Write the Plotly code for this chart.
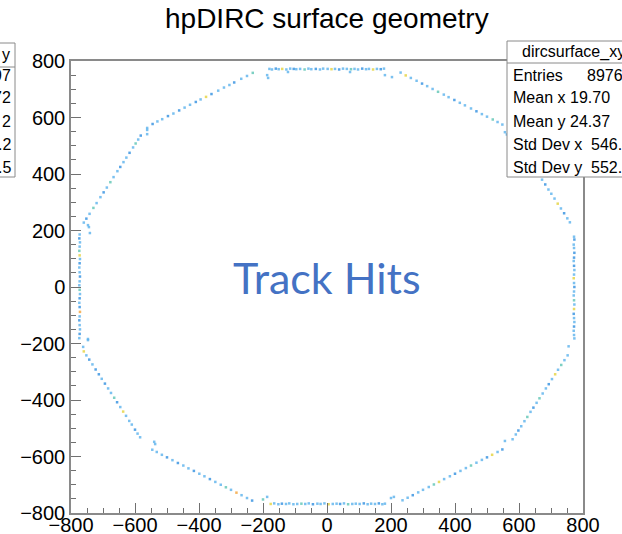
import plotly.graph_objects as go

# ---------------- data (hit positions) ----------------
top_x = [-180, -172, -160, -151, -140, -127, -115, -104, -96, -84, -70, -58, -49, -35, -22, -12,
         2, 14, 25, 38, 50, 62, 75, 86, 97, 110, 122, 131, 144, 156, 168, 178, -187, -184, -122, 72, 181, 203]
top_y = [772, 770, 773, 771, 772, 770, 773, 772, 771, 772, 770, 773, 771, 772, 770, 773,
         772, 771, 772, 770, 773, 772, 771, 772, 770, 773, 771, 772, 770, 772, 771, 773, 750, 740, 761, 761, 750, 743]
top_z = [1, 1, 2, 1, 4, 1, 1, 2, 1, 1, 3, 1, 1, 2, 1, 1,
         1, 4, 1, 2, 1, 1, 3, 1, 1, 2, 1, 1, 4, 1, 2, 1, 1, 1, 1, 1, 1, 1]

bot_x = [-176, -165, -152, -141, -128, -118, -105, -93, -80, -68, -57, -44, -30, -20, -8, 5,
         18, 30, 41, 53, 66, 79, 90, 102, 115, 127, 138, 150, 162, 173, 181, -187, -200, 200, 209]
bot_y = [-768, -766, -769, -767, -768, -766, -769, -768, -767, -768, -766, -769, -767, -768, -766, -769,
         -768, -767, -768, -766, -769, -768, -767, -768, -766, -769, -767, -768, -766, -769, -767, -743, -752, -747, -743]
bot_z = [4, 1, 1, 2, 1, 1, 1, 1, 3, 1, 1, 2, 1, 1, 1, 4,
         1, 1, 2, 1, 3, 1, 1, 1, 2, 1, 1, 1, 2, 1, 1, 1, 3, 1, 1]

ur30_x = [230, 246, 262, 280, 297, 313, 330, 347, 365, 380, 398, 415, 431, 450, 467, 484, 500, 518, 533, 548]
ur30_y = [759, 749, 740, 730, 720, 711, 701, 691, 681, 672, 662, 652, 643, 632, 622, 612, 603, 593, 584, 575]
ur30_z = [1, 4, 1, 1, 2, 1, 1, 3, 1, 1, 2, 1, 1, 1, 2, 1, 1, 3, 1, 1]

ur60_x = [581, 589, 597, 607, 616, 625, 635, 644, 653, 663, 672, 682, 692, 701, 711, 721, 731, 741, 751, 759, 556, 562]
ur60_y = [538, 524, 510, 493, 477, 461, 444, 429, 413, 396, 380, 363, 345, 330, 313, 295, 278, 261, 243, 229, 548, 540]
ur60_z = [1, 1, 4, 1, 2, 1, 1, 1, 3, 1, 1, 2, 1, 1, 1, 4, 1, 2, 1, 1, 1, 1]

rv_x = [772, 773, 771, 772, 773, 772, 771, 772, 773, 772, 771, 772, 773, 772, 771, 772,
        773, 772, 771, 772, 773, 772, 771, 772, 773]
rv_y = [178, 168, 150, 138, 121, 104, 92, 75, 60, 44, 31, 14, 0, -16, -30, -47,
        -62, -78, -95, -110, -124, -140, -155, -170, -182]
rv_z = [1, 2, 1, 1, 2, 2, 1, 2, 1, 1, 4, 1, 2, 1, 1, 3, 1, 4, 2, 1, 1, 2, 1, 1, 1]

lr60_x = [580, 590, 598, 607, 617, 626, 636, 645, 655, 664, 674, 684, 693, 703, 713, 722, 732, 742, 752, 755]
lr60_y = [-539, -522, -508, -493, -475, -460, -442, -427, -410, -394, -377, -359, -344, -326, -309, -293, -276, -259, -242, -210]
lr60_z = [1, 1, 2, 1, 1, 3, 1, 2, 1, 3, 1, 1, 2, 1, 4, 1, 3, 1, 1, 1]

lr30_x = [236, 252, 268, 285, 300, 318, 334, 350, 366, 384, 400, 417, 434, 450, 467, 484, 500, 516, 533, 548, 556]
lr30_y = [-755, -746, -737, -727, -718, -708, -699, -690, -680, -670, -661, -651, -641, -632, -622, -612, -603, -594, -584, -575, -545]
lr30_z = [1, 1, 2, 1, 1, 1, 3, 4, 1, 1, 2, 1, 1, 3, 1, 1, 2, 4, 1, 2, 1]

ll30_x = [-234, -250, -267, -283, -300, -316, -332, -349, -366, -383, -399, -416, -433, -449, -466, -483, -500, -516, -532, -546, -537, -540]
ll30_y = [-756, -747, -737, -728, -718, -709, -700, -690, -680, -670, -661, -651, -642, -632, -623, -613, -603, -594, -584, -576, -556, -548]
ll30_z = [2, 1, 1, 5, 1, 3, 1, 1, 2, 1, 1, 2, 1, 1, 2, 1, 2, 1, 1, 1, 1, 1]

ll60_x = [-584, -592, -600, -610, -618, -628, -637, -646, -656, -665, -675, -684, -694, -704, -713, -723, -733, -743, -752, -760, -747, -762]
ll60_y = [-532, -519, -505, -487, -474, -456, -441, -425, -408, -392, -375, -359, -342, -325, -309, -292, -274, -257, -242, -228, -184, -212]
ll60_z = [1, 1, 2, 1, 1, 1, 4, 1, 2, 3, 1, 1, 2, 1, 2, 2, 1, 2, 1, 4, 1, 1]

lv_x = [-773, -774, -772, -773, -774, -773, -772, -773, -774, -773, -772, -773, -774, -773, -772, -773,
        -774, -773, -772, -773, -774, -773, -772, -773, -774, -747, -741, -747]
lv_y = [186, 172, 158, 143, 128, 112, 99, 84, 69, 52, 37, 20, 6, -10, -25, -40,
        -56, -71, -88, -104, -118, -135, -150, -166, -181, 219, 191, -188]
lv_z = [1, 2, 1, 1, 3, 4, 1, 2, 1, 1, 2, 1, 1, 3, 1, 2, 1, 2, 5, 1, 2, 1, 1, 2, 1, 1, 1, 1]

ul60_x = [-582, -590, -598, -606, -617, -627, -636, -646, -655, -667, -677, -688, -698, -708, -720, -730, -742, -752, -760, -744]
ul60_y = [536, 522, 508, 494, 475, 458, 442, 425, 410, 389, 371, 352, 335, 318, 297, 280, 259, 242, 228, 212]
ul60_z = [2, 1, 3, 1, 2, 1, 1, 2, 1, 1, 3, 1, 2, 1, 1, 3, 1, 2, 1, 1]

ul30_x = [-232, -250, -268, -290, -305, -322, -340, -361, -378, -395, -410, -428, -445, -462, -480, -497, -515, -530, -545,
          -562, -562, -562]
ul30_y = [758, 747, 737, 724, 715, 706, 695, 683, 673, 664, 655, 645, 635, 625, 614, 605, 594, 586, 577,
          563, 556, 541]
ul30_z = [3, 1, 1, 2, 1, 1, 1, 2, 4, 1, 2, 1, 1, 2, 1, 2, 1, 1, 2, 1, 1, 1]

xs = top_x + bot_x + ur30_x + ur60_x + rv_x + lr60_x + lr30_x + ll30_x + ll60_x + lv_x + ul60_x + ul30_x
ys = top_y + bot_y + ur30_y + ur60_y + rv_y + lr60_y + lr30_y + ll30_y + ll60_y + lv_y + ul60_y + ul30_y
zs = top_z + bot_z + ur30_z + ur60_z + rv_z + lr60_z + lr30_z + ll30_z + ll60_z + lv_z + ul60_z + ul30_z

stat_labels = ["Entries", "Mean x", "Mean y", "Std Dev x", "Std Dev y"]
stat_values = ["8976", "19.70", "24.37", "546.4", "552.7"]
left_box_values = ["97", "72", "2", ".2", ".5"]

# ---------------- figure ----------------
bird = [[0.0, "#5ab2ec"], [0.25, "#2f8fe0"], [0.5, "#5cc4b4"], [0.75, "#e3d23c"], [1.0, "#f2a23a"]]

fig = go.Figure()
fig.add_trace(go.Scatter(
    x=xs, y=ys, mode="markers",
    marker=dict(symbol="square", size=2.5, color=zs, cmin=1, cmax=5, colorscale=bird,
                line=dict(width=0), opacity=0.8),
    showlegend=False, hoverinfo="skip"))

axis_common = dict(
    range=[-800, 800], dtick=200, tick0=0, ticks="inside", ticklen=10, tickwidth=1,
    tickcolor="#707070", showline=True, linecolor="#8a8a8a", linewidth=1.5, mirror=True,
    showgrid=False, zeroline=False,
    tickfont=dict(family="Liberation Sans, Arial", size=20, color="black"),
    minor=dict(ticks="inside", ticklen=5, dtick=50, tickcolor="#707070", tickwidth=1, showgrid=False),
)
fig.update_xaxes(**axis_common, ticklabelstandoff=-7)
fig.update_yaxes(**axis_common)

L, R, T, B = 71, 39, 61, 21
W, H = 622, 534
pw, ph = W - L - R, H - T - B


def px2x(px):
    return (px - L) / pw


def py2y(py):
    return (H - B - py) / ph


shapes = []
annotations = []

# right stats box
shapes.append(dict(type="rect", xref="paper", yref="paper", x0=px2x(507), x1=px2x(680),
                   y0=py2y(177), y1=py2y(41), line=dict(color="#8a8a8a", width=1),
                   fillcolor="white", layer="above"))
shapes.append(dict(type="line", xref="paper", yref="paper", x0=px2x(507), x1=px2x(680),
                   y0=py2y(63), y1=py2y(63), line=dict(color="#8a8a8a", width=1), layer="above"))
annotations.append(dict(text="dircsurface_xy", xref="paper", yref="paper", x=px2x(520), y=py2y(52),
                        xanchor="left", yanchor="middle", showarrow=False,
                        font=dict(family="Liberation Sans, Arial", size=16, color="black")))
rows_py = [75, 98, 121, 144, 167]
val_px = [585, 568, 568, 589, 589]
for lab, val, rp, vp in zip(stat_labels, stat_values, rows_py, val_px):
    annotations.append(dict(text=lab, xref="paper", yref="paper", x=px2x(511), y=py2y(rp),
                            xanchor="left", yanchor="middle", showarrow=False,
                            font=dict(family="Liberation Sans, Arial", size=16, color="black")))
    annotations.append(dict(text=val, xref="paper", yref="paper", x=px2x(vp), y=py2y(rp),
                            xanchor="left", yanchor="middle", showarrow=False,
                            font=dict(family="Liberation Sans, Arial", size=16, color="black")))

# left (cropped) stats box
shapes.append(dict(type="rect", xref="paper", yref="paper", x0=px2x(-60), x1=px2x(15),
                   y0=py2y(177), y1=py2y(43), line=dict(color="#8a8a8a", width=1),
                   fillcolor="white", layer="above"))
shapes.append(dict(type="line", xref="paper", yref="paper", x0=px2x(-60), x1=px2x(15),
                   y0=py2y(67), y1=py2y(67), line=dict(color="#8a8a8a", width=1), layer="above"))
annotations.append(dict(text="y", xref="paper", yref="paper", x=px2x(12), y=py2y(54),
                        xanchor="right", yanchor="middle", showarrow=False,
                        font=dict(family="Liberation Sans, Arial", size=16, color="black")))
for val, rp in zip(left_box_values, rows_py):
    annotations.append(dict(text=val, xref="paper", yref="paper", x=px2x(13), y=py2y(rp),
                            xanchor="right", yanchor="middle", showarrow=False,
                            font=dict(family="Liberation Sans, Arial", size=16, color="black")))

# title
annotations.append(dict(text="hpDIRC surface geometry", xref="paper", yref="paper",
                        x=0.5, y=py2y(19), xanchor="center", yanchor="middle", showarrow=False,
                        font=dict(family="Liberation Sans, Arial", size=28, color="black")))
# overlay label
annotations.append(dict(text="Track Hits", xref="x", yref="y", x=0, y=34,
                        xanchor="center", yanchor="middle", showarrow=False,
                        font=dict(family="Lato, Open Sans", size=43, color="#4472c4")))

fig.update_layout(
    width=W, height=H, margin=dict(l=L, r=R, t=T, b=B, autoexpand=False),
    paper_bgcolor="white", plot_bgcolor="white",
    shapes=shapes, annotations=annotations,
)

fig.write_html("out.html")
